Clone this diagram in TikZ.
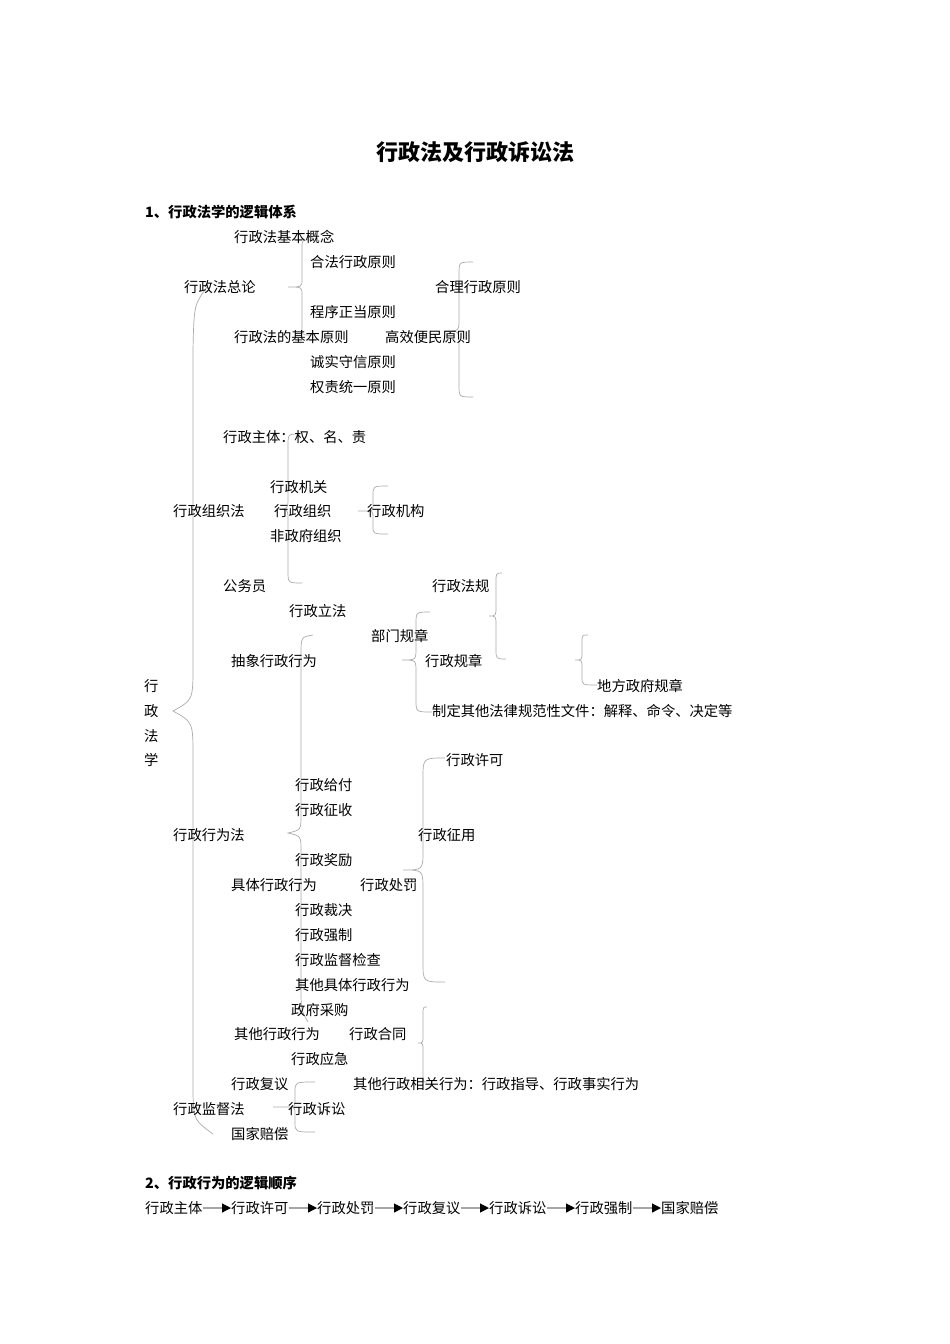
\documentclass[tikz,border=0pt]{standalone}
\usepackage{fontspec}
\setmainfont{Noto Sans CJK SC}
\usetikzlibrary{arrows.meta}
\newcommand{\mybrc}[8]{%
  % #1 top end x, #2 top y, #3 spine x, #4 tip x, #5 tip y, #6 bottom y, #7 bottom end x, #8 curl radius
  \draw[brc] (#1,#2) .. controls (#3,#2) .. (#3,#2+#8) -- (#3,#5-#8)
    .. controls (#3,#5) .. (#4,#5) .. controls (#3,#5) .. (#3,#5+#8)
    -- (#3,#6-#8) .. controls (#3,#6) .. (#7,#6);}
\begin{document}
\begin{tikzpicture}[x=1pt,y=-1pt,
  txt/.style={anchor=west,inner sep=0pt,font=\fontsize{14.3}{14.3}\selectfont},
  head/.style={anchor=west,inner sep=0pt,font=\fontsize{14.3}{14.3}\selectfont\bfseries},
  brc/.style={draw=black!33,line width=0.7pt},
  seqarrow/.style={draw=black!35,line width=1.2pt,-{Triangle[length=9pt,width=9pt,color=black]}}]
\useasboundingbox (0,0) rectangle (950,1344);

% ---------- braces ----------
\mybrc{310}{240}{302}{288}{287}{335}{310}{8}
\mybrc{473}{262}{459}{445}{331}{397}{473}{12}
\draw[brc] (207,287) .. controls (194,305) .. (193,350) -- (193,665)
  .. controls (193,700) .. (173,711) .. controls (193,722) .. (193,757)
  -- (193,1095) .. controls (194,1120) .. (213,1134);
\mybrc{300}{434}{288}{276}{509}{583}{302}{12}
\draw[brc] (388,486) .. controls (373,486) .. (373,496) -- (373,503)
  .. controls (373,511) .. (366,511) -- (358,511) -- (366,511)
  .. controls (373,511) .. (373,519) -- (373,526) .. controls (373,534) .. (388,534);
\mybrc{430}{612}{416}{402}{660}{712}{432}{12}
\mybrc{502}{573}{496}{489}{616}{659}{506}{10}
\mybrc{588}{635}{582}{575}{660}{685}{597}{8}
\draw[brc] (313,635) .. controls (301,637) .. (301,655) -- (301,815)
  .. controls (301,830) .. (288,833) .. controls (301,836) .. (301,851)
  -- (301,985) .. controls (301,1010) .. (308,1022);
\mybrc{445}{758}{423}{403}{870}{982}{445}{20}
\mybrc{427}{1007}{423}{418}{1043}{1082}{427}{8}
\draw[brc] (315,1082) .. controls (295,1082) .. (295,1092) -- (295,1099)
  .. controls (295,1107) .. (287,1107) -- (273,1107) -- (287,1107)
  .. controls (295,1107) .. (295,1115) -- (295,1122) .. controls (295,1132) .. (315,1132);

% ---------- title and headings ----------
\node[anchor=center,inner sep=0pt,font=\fontsize{22}{22}\selectfont\bfseries] (title) at (475,152) {行政法及行政诉讼法};
\node[head] (h1) at (145,212) {1、行政法学的逻辑体系};
\node[head] (h2) at (145,1183) {2、行政行为的逻辑顺序};

% ---------- part 1 texts ----------
\node[txt] (a1) at (234,237) {行政法基本概念};
\node[txt] (a2) at (310,262) {合法行政原则};
\node[txt] (a3) at (184,287) {行政法总论};
\node[txt] (a4) at (435,287) {合理行政原则};
\node[txt] (a5) at (310,312) {程序正当原则};
\node[txt] (a6) at (234,337) {行政法的基本原则};
\node[txt] (a7) at (385,337) {高效便民原则};
\node[txt] (a8) at (310,362) {诚实守信原则};
\node[txt] (a9) at (310,387) {权责统一原则};

\node[txt] (b1) at (223,437) {行政主体：权、名、责};
\node[txt] (b2) at (270,487) {行政机关};
\node[txt] (b3) at (173,511) {行政组织法};
\node[txt] (b4) at (274,511) {行政组织};
\node[txt] (b5) at (367,511) {行政机构};
\node[txt] (b6) at (270,536) {非政府组织};
\node[txt] (b7) at (223,586) {公务员};

\node[txt] (c1) at (432,586) {行政法规};
\node[txt] (c2) at (289,611) {行政立法};
\node[txt] (c3) at (371,636) {部门规章};
\node[txt] (c4) at (231,661) {抽象行政行为};
\node[txt] (c5) at (425,661) {行政规章};
\node[txt] (c6) at (597,686) {地方政府规章};
\node[txt] (c7) at (432,711) {制定其他法律规范性文件：解释、命令、决定等};

\node[txt] (v1) at (144,686) {行};
\node[txt] (v2) at (144,711) {政};
\node[txt] (v3) at (144,736) {法};
\node[txt] (v4) at (144,760) {学};

\node[txt] (d1) at (446,760) {行政许可};
\node[txt] (d2) at (295,785) {行政给付};
\node[txt] (d3) at (295,810) {行政征收};
\node[txt] (d4) at (173,835) {行政行为法};
\node[txt] (d5) at (418,835) {行政征用};
\node[txt] (d6) at (295,860) {行政奖励};
\node[txt] (d7) at (231,885) {具体行政行为};
\node[txt] (d8) at (360,885) {行政处罚};
\node[txt] (d9) at (295,910) {行政裁决};
\node[txt] (d10) at (295,935) {行政强制};
\node[txt] (d11) at (295,960) {行政监督检查};
\node[txt] (d12) at (295,985) {其他具体行政行为};

\node[txt] (e1) at (291,1010) {政府采购};
\node[txt] (e2) at (234,1034) {其他行政行为};
\node[txt] (e3) at (349,1034) {行政合同};
\node[txt] (e4) at (291,1059) {行政应急};
\node[txt] (e5) at (353,1084) {其他行政相关行为：行政指导、行政事实行为};

\node[txt] (f1) at (231,1084) {行政复议};
\node[txt] (f2) at (173,1109) {行政监督法};
\node[txt] (f3) at (288,1109) {行政诉讼};
\node[txt] (f4) at (231,1134) {国家赔偿};

% ---------- part 2 sequence ----------
\node[txt] (s1) at (145,1208) {行政主体};
\node[txt] (s2) at (231,1208) {行政许可};
\node[txt] (s3) at (317,1208) {行政处罚};
\node[txt] (s4) at (403,1208) {行政复议};
\node[txt] (s5) at (489,1208) {行政诉讼};
\node[txt] (s6) at (575,1208) {行政强制};
\node[txt] (s7) at (661,1208) {国家赔偿};
\draw[seqarrow] (s1.east) -- (s2.west);
\draw[seqarrow] (s2.east) -- (s3.west);
\draw[seqarrow] (s3.east) -- (s4.west);
\draw[seqarrow] (s4.east) -- (s5.west);
\draw[seqarrow] (s5.east) -- (s6.west);
\draw[seqarrow] (s6.east) -- (s7.west);
\end{tikzpicture}
\end{document}
